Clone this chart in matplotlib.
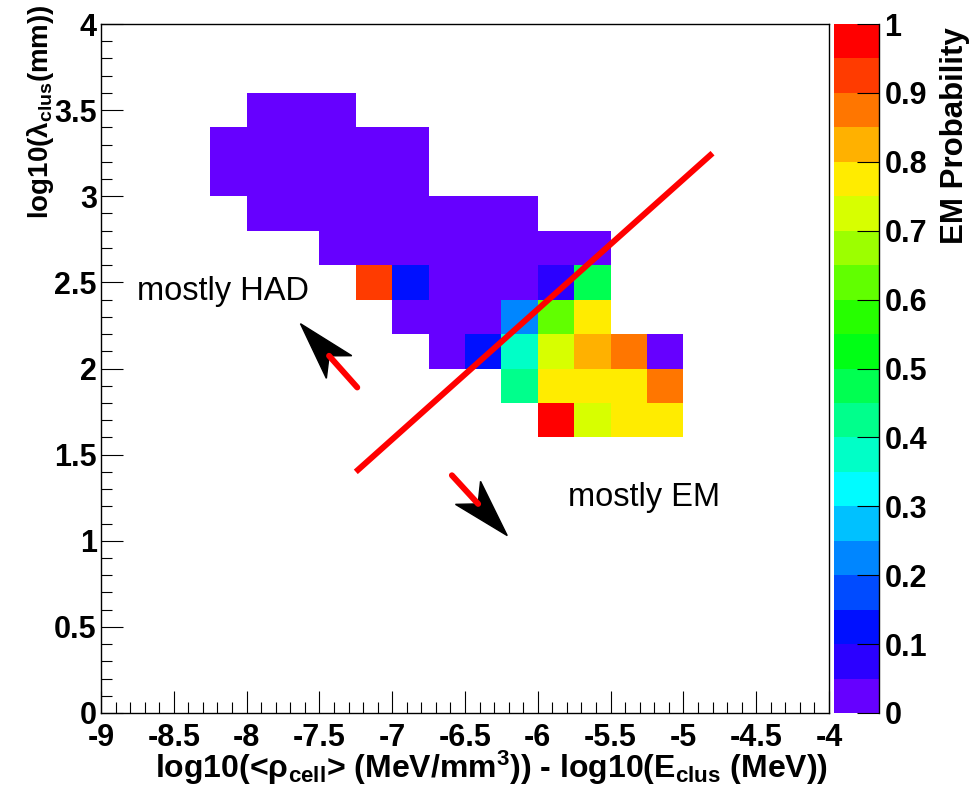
import numpy as np
import matplotlib
matplotlib.use("Agg")
import matplotlib.pyplot as plt
from matplotlib.colors import ListedColormap, BoundaryNorm, hsv_to_rgb
from matplotlib.patches import Polygon
from matplotlib.lines import Line2D
from matplotlib.transforms import IdentityTransform
from matplotlib.ticker import MultipleLocator, FuncFormatter

plt.rcParams["font.family"] = "Liberation Sans"
plt.rcParams["font.weight"] = "bold"
plt.rcParams["axes.unicode_minus"] = False
plt.rcParams["mathtext.fontset"] = "custom"
plt.rcParams["mathtext.rm"] = "Liberation Sans:bold"
plt.rcParams["mathtext.it"] = "Liberation Sans:bold"
plt.rcParams["mathtext.bf"] = "Liberation Sans:bold"
plt.rcParams["mathtext.default"] = "rm"


# Binning (0.25 in x, 0.2 in y)
x_edges = np.linspace(-9.0, -4.0, 21)
y_edges = np.linspace(0.0, 4.0, 21)

# Filled rows: lower y edge, lower x edge of first bin, EM probability per bin
row_y = [3.4, 3.2, 3.0, 2.8, 2.6, 2.4, 2.2, 2.0, 1.8, 1.6]
row_x0 = [-8.0, -8.25, -8.25, -8.0, -7.5, -7.25, -7.0, -6.75, -6.25, -6.0]
row_prob = [
    [0.02, 0.02, 0.02],
    [0.02, 0.02, 0.02, 0.02, 0.02, 0.02],
    [0.02, 0.02, 0.02, 0.02, 0.02, 0.02],
    [0.02, 0.02, 0.02, 0.02, 0.02, 0.02, 0.02, 0.02],
    [0.02, 0.02, 0.02, 0.02, 0.02, 0.02, 0.02, 0.02],
    [0.92, 0.12, 0.02, 0.02, 0.02, 0.07, 0.47],
    [0.02, 0.02, 0.02, 0.22, 0.62, 0.77],
    [0.02, 0.12, 0.37, 0.72, 0.82, 0.87, 0.02],
    [0.42, 0.77, 0.77, 0.77, 0.87],
    [0.97, 0.72, 0.77, 0.77],
]

# separation line and the two arrows (tail, tip)
cut_x = [-7.25, -4.8]
cut_y = [1.4, 3.25]
arrows = [((-7.24, 1.89), (-7.63, 2.26)),
          ((-6.59, 1.38), (-6.21, 1.03))]

grid = np.full((20, 20), np.nan)
for y0, x0, probs in zip(row_y, row_x0, row_prob):
    iy = int(round(y0 / 0.2))
    ix0 = int(round((x0 + 9.0) / 0.25))
    for j, p in enumerate(probs):
        grid[iy, ix0 + j] = p

# ROOT-like 20 level rainbow palette
n_lev = 20
hues = (264.0 - 264.0 * np.arange(n_lev) / (n_lev - 1)) / 360.0
pal = [hsv_to_rgb((h, 1.0, 1.0)) for h in hues]
cmap = ListedColormap(pal)
levels = np.linspace(0, 1, n_lev + 1)
norm = BoundaryNorm(levels, cmap.N)

fig = plt.figure(figsize=(9.69, 7.90), dpi=100)
ax = fig.add_axes([101 / 969, 77 / 790, 728 / 969, 689 / 790])
cax = fig.add_axes([834 / 969, 77 / 790, 45 / 969, 689 / 790])

mesh = ax.pcolormesh(x_edges, y_edges, np.ma.masked_invalid(grid),
                     cmap=cmap, norm=norm)

ax.set_xlim(-9, -4)
ax.set_ylim(0, 4)
fmt = FuncFormatter(lambda v, p: f"{v:g}")
ax.xaxis.set_major_locator(MultipleLocator(0.5))
ax.xaxis.set_minor_locator(MultipleLocator(0.1))
ax.yaxis.set_major_locator(MultipleLocator(0.5))
ax.yaxis.set_minor_locator(MultipleLocator(0.1))
ax.xaxis.set_major_formatter(fmt)
ax.yaxis.set_major_formatter(fmt)
ax.tick_params(which="both", direction="in", width=0.8, labelsize=22)
ax.tick_params(which="major", length=16)
ax.tick_params(which="minor", length=8)
ax.tick_params(axis="x", pad=7)
ax.tick_params(axis="y", pad=3)
for s in ax.spines.values():
    s.set_linewidth(1.0)

ax.plot(cut_x, cut_y, color="red", lw=4.3, solid_capstyle="butt")

ax.text(-8.75, 2.40, "mostly HAD", fontsize=23.5, fontweight="normal", va="baseline")
ax.text(-5.79, 1.20, "mostly EM", fontsize=23.5, fontweight="normal", va="baseline")


def draw_arrow(tail, tip):
    p0 = ax.transData.transform(tail)
    p1 = ax.transData.transform(tip)
    d = p1 - p0
    u = d / np.hypot(*d)
    n = np.array([-u[1], u[0]])
    base = p1 - u * 58
    notch = p1 - u * 43
    ax.add_line(Line2D([p0[0], notch[0]], [p0[1], notch[1]], color="red",
                       lw=4.3, solid_capstyle="round",
                       transform=IdentityTransform()))
    ax.add_patch(Polygon([p1, base + n * 17, notch, base - n * 17],
                         closed=True, color="black",
                         transform=IdentityTransform()))


for tail, tip in arrows:
    draw_arrow(tail, tip)

# colour bar
cb = fig.colorbar(mesh, cax=cax, ticks=np.linspace(0, 1, 11))
cb.outline.set_visible(False)
cb.minorticks_off()
cax.yaxis.set_major_formatter(fmt)
cax.tick_params(direction="in", length=16, width=0.8, labelsize=22, pad=4)
cax.plot([1, 1], [0, 1], transform=cax.transAxes, color="black", lw=1.0,
         clip_on=False)

fig.text(41 / 969, 1 - 4 / 790, r"log10($\lambda_{clus}$(mm))", rotation=90,
         ha="center", va="top", fontsize=20)
fig.text(828 / 969, 1 - 778 / 790,
         r"log10(<$\rho_{cell}$> (MeV/mm$^{3}$)) - log10($E_{clus}$ (MeV))",
         ha="right", va="baseline", fontsize=23)
fig.text(955 / 969, 1 - 27 / 790, "EM Probability", rotation=90,
         ha="center", va="top", fontsize=22.5)

fig.savefig("out.png", dpi=100)
